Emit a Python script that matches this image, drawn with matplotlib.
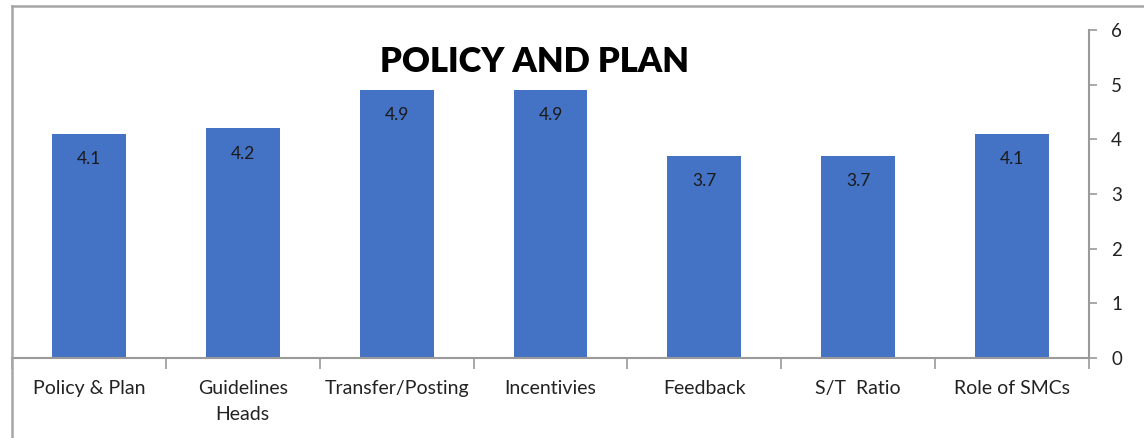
import matplotlib
matplotlib.use("Agg")
import matplotlib.pyplot as plt
from matplotlib.lines import Line2D

categories = ["Policy & Plan", "Guidelines\nHeads", "Transfer/Posting", "Incentivies",
              "Feedback", "S/T  Ratio", "Role of SMCs"]
values = [4.1, 4.2, 4.9, 4.9, 3.7, 3.7, 4.1]
y_ticks = [0, 1, 2, 3, 4, 5, 6]
title = "POLICY AND PLAN"

plt.rcParams['font.family'] = ['Lato', 'DejaVu Sans']

W, H = 1144, 438
fig = plt.figure(figsize=(W / 100, H / 100), dpi=100)
fig.patch.set_facecolor("white")

x0, x1 = 12, 1089
yb, yt = 358, 30
ax = fig.add_axes([x0 / W, (H - yb) / H, (x1 - x0) / W, (yb - yt) / H])

xs = list(range(len(categories)))
bars = ax.bar(xs, values, width=0.48, color="#4472C4", zorder=2)
ax.set_xlim(-0.5, len(categories) - 0.5)
ax.set_ylim(0, 6)

for x, v in zip(xs, values):
    ax.text(x, v - 0.46, f"{v}", ha="center", va="center", fontsize=12.5, color="#1a1a1a")

ax.yaxis.tick_right()
ax.set_yticks(y_ticks)
ax.set_yticklabels([str(t) for t in y_ticks], fontsize=13.5, color="#222222")
ax.tick_params(axis="y", direction="out", length=6, width=1.2, color="#9a9a9a", pad=10, right=True, left=False)

ax.set_xticks(xs)
ax.set_xticklabels(categories, fontsize=14, color="#222222", linespacing=1.65)
ax.tick_params(axis="x", length=0, pad=16)
# category boundary ticks
ax.set_xticks([i - 0.5 for i in range(len(categories) + 1)], minor=True)
ax.tick_params(axis="x", which="minor", length=8, width=1.2, color="#9a9a9a", direction="out")

for s in ["top", "left"]:
    ax.spines[s].set_visible(False)
ax.spines["right"].set_color("#9a9a9a")
ax.spines["right"].set_linewidth(1.5)
ax.spines["bottom"].set_color("#9a9a9a")
ax.spines["bottom"].set_linewidth(1.5)

fig.text(534 / W, (H - 62) / H, title, ha="center", va="center", fontsize=24.8,
         fontweight="heavy", color="black")

# chart border (left and top)
fig.add_artist(Line2D([11.5 / W, 11.5 / W], [0, (H - 5.5) / H], color="#a6a6a6", lw=1.8,
                      transform=fig.transFigure))
fig.add_artist(Line2D([11.5 / W, 1.0], [(H - 5.5) / H, (H - 5.5) / H], color="#a6a6a6", lw=1.8,
                      transform=fig.transFigure))

fig.savefig("out.png", dpi=100, facecolor="white")
